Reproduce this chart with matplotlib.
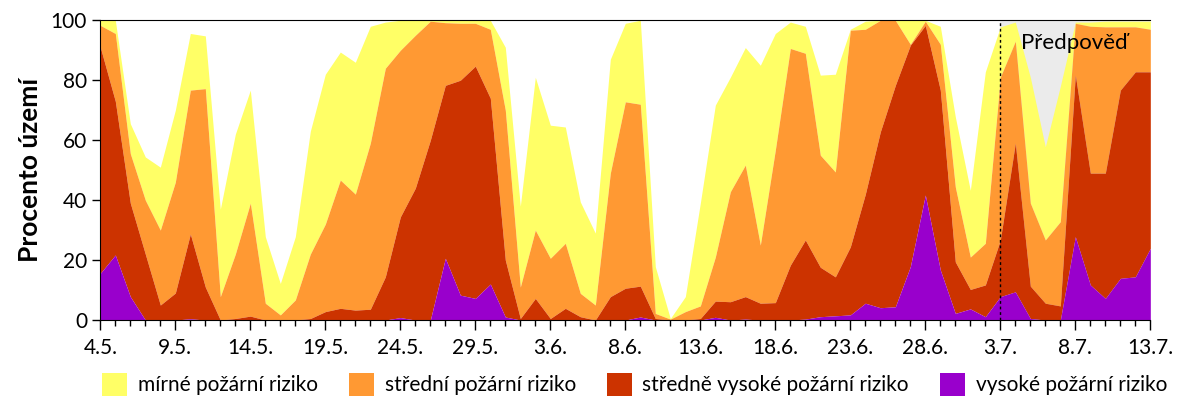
import numpy as np
import pandas as pd
import matplotlib
matplotlib.use('Agg')
import matplotlib.pyplot as plt
from matplotlib.ticker import MultipleLocator
from matplotlib.patches import Patch

plt.rcParams['font.family'] = ['Lato', 'DejaVu Sans']

# kumulativní horní hranice vrstev (% území), den po dni od 4.5. do 13.7.
mirne = [100, 100, 65.5, 54.4, 51, 70, 95.6, 94.8, 37, 62, 76.7, 27.8, 12.2, 27.8, 63, 82, 89.4, 86, 98, 99.4,
         100, 100, 100, 100, 100, 100, 100, 91, 38, 81, 65, 64.4, 39.4, 29, 87, 99, 100, 17.8, 0.5, 7.8,
         39, 71.7, 81, 90.9, 85, 95.6, 99.4, 98, 81.7, 82, 97, 99.7, 100, 100, 100, 100, 98, 67.8, 43.3, 82.8,
         97.8, 99.4, 81, 57.8, 78, 99.4, 99.4, 99.7, 99.7, 99.7, 99.7]
stredni = [98.3, 95.6, 55.5, 40, 30, 46, 76.7, 77.2, 7.8, 22, 39, 5.6, 1.7, 6.7, 22, 32, 46.7, 42, 59, 84,
           90, 95, 99.7, 99.2, 99, 99, 97, 70, 11, 30, 20.6, 25.6, 8.9, 5, 49, 72.8, 72, 2.2, 0.3, 2.8,
           4.7, 21, 42.8, 51.7, 25, 56.7, 90.6, 89, 55, 49.4, 96.7, 97, 100, 100, 92, 99.7, 92, 44.4, 21, 25.6,
           81, 93, 39, 26.7, 32.8, 99, 98, 97.8, 97.8, 97.8, 97]
stredne_vysoke = [91, 73, 39, 22, 5, 9, 28.7, 11, 0, 0.5, 1.3, 0, 0, 0, 0.5, 2.8, 3.9, 3.3, 3.6, 14.4,
                  34.4, 44, 60, 78.3, 80, 84.7, 74, 20, 0.5, 7.2, 0.5, 3.9, 1.1, 0, 7.8, 10.6, 11.3, 0.5, 0, 0,
                  0.5, 6.3, 6.1, 7.8, 5.6, 5.8, 18.3, 26.7, 17.6, 14.4, 24.4, 42, 62.8, 78.3, 91.7, 98.3, 76.7, 19.4, 10.2, 11.7,
                  26.7, 59, 11.3, 5.6, 4.7, 81.7, 49, 49, 76.7, 82.8, 82.8]
vysoke = [15.6, 21.7, 7.8, 0, 0, 0, 0.4, 0, 0, 0, 0, 0, 0, 0, 0, 0, 0, 0, 0, 0,
          0.8, 0, 0, 20.6, 8.3, 7.2, 12, 1, 0, 0, 0, 0, 0, 0, 0, 0, 1, 0, 0, 0,
          0, 0.9, 0, 0.3, 0, 0, 0, 0.3, 1.1, 1.4, 1.7, 5.6, 4.1, 4.4, 17.8, 41.7, 16.7, 2.2, 3.7, 1.1,
          7.8, 9.4, 0.5, 0, 0, 27.8, 11.7, 7.2, 13.9, 14.4, 23.9]

nazvy = ['mírné požární riziko', 'střední požární riziko', 'středně vysoké požární riziko', 'vysoké požární riziko']
barvy = ['#FFFF66', '#FF9933', '#CC3300', '#9900CC']

datumy = pd.date_range('2015-05-04', '2015-07-13')
popisky = [f"{d.day}.{d.month}." for d in datumy]
zacatek_predpovedi = 60  # 3.7.

x = np.arange(len(datumy))

fig = plt.figure(figsize=(12, 4), dpi=100)
ax = fig.add_axes([0.0836, 0.2, 0.875, 0.7493])

ax.axvspan(zacatek_predpovedi, x[-1], color='#EBEBEB', lw=0, zorder=0)

vrstvy = [mirne, stredni, stredne_vysoke, vysoke]
for i, (horni, c) in enumerate(zip(vrstvy, barvy)):
    dolni = vrstvy[i + 1] if i < 3 else np.zeros(len(x))
    ax.fill_between(x, dolni, horni, color=c, lw=0, zorder=1)

ax.axvline(zacatek_predpovedi, color='black', ls=(0, (2, 2)), lw=1, zorder=3)
ax.text(61.4, 92.5, 'Předpověď', fontsize=16, va='center', ha='left', zorder=4)

ax.set_xlim(0, x[-1])
ax.set_ylim(0, 100)
ax.set_xticks(x[::5])
ax.set_xticklabels(popisky[::5], fontsize=15)
ax.xaxis.set_minor_locator(MultipleLocator(1))
ax.set_yticks(range(0, 101, 20))
ax.tick_params(axis='y', labelsize=15, length=6, width=1)
ax.tick_params(axis='x', which='major', length=7, width=1, pad=6)
ax.tick_params(axis='x', which='minor', length=4, width=1)
ax.spines['right'].set_visible(False)
ax.set_ylabel('Procento území', fontsize=19, fontweight='bold', labelpad=6)

handles = [Patch(facecolor=c, edgecolor='none') for c in barvy]
ax.legend(handles, nazvy, loc='center', bbox_to_anchor=(0.509, -0.215), ncol=4, frameon=False,
          fontsize=15, handlelength=1.2, handleheight=1.3, handletextpad=0.5, columnspacing=1.5)

fig.savefig('out.png', dpi=100)
